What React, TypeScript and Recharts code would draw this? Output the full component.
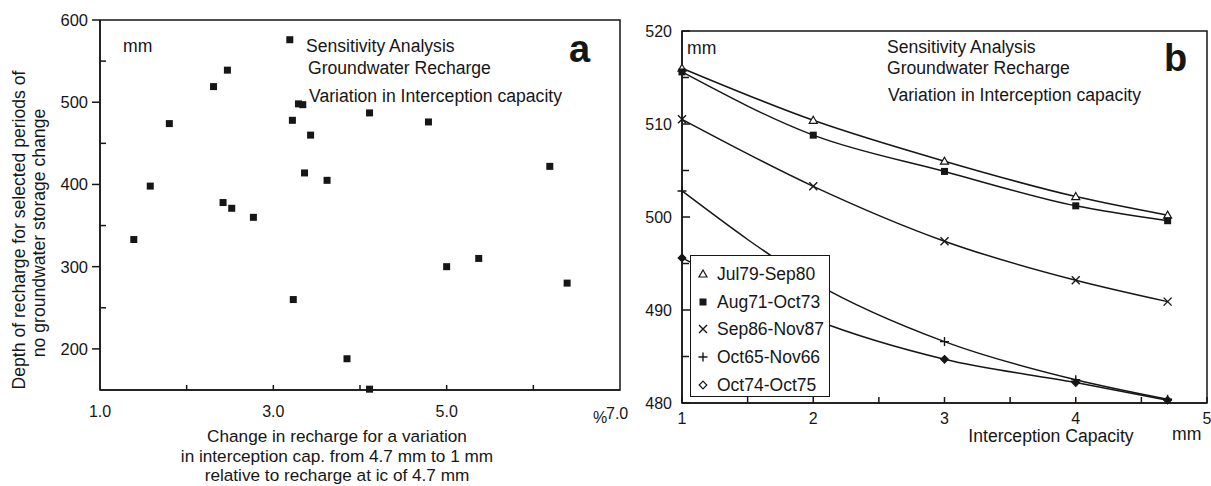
import React from 'react';
import {
  ScatterChart,
  Scatter,
  XAxis,
  YAxis,
  ZAxis,
  ReferenceArea,
  LineChart,
  Line,
  Legend,
} from 'recharts';

const FONT = "'Liberation Sans', Arial, Helvetica, sans-serif";
const INK = '#161616';

// ---------- Panel a : scatter ----------
const recChangePct = [3.19, 2.47, 2.31, 1.8, 3.22, 3.29, 3.34, 1.58, 2.42, 2.52, 2.77, 1.39, 4.11, 4.79, 3.43, 3.36, 3.62, 6.19, 3.23, 5.0, 5.37, 6.39, 3.85, 4.11];
const rechargeDepth = [576, 539, 519, 474, 478, 498, 497, 398, 378, 371, 360, 333, 487, 476, 460, 414, 405, 422, 260, 300, 310, 280, 188, 151];
const aXTicks = [1, 2, 3, 4, 5, 6, 7];
const aXLabels = ['1.0', '', '3.0', '', '5.0', '', '7.0'];
const aYTicks = [200, 250, 300, 350, 400, 450, 500, 550, 600];

// ---------- Panel b : lines ----------
const icMm = [1, 2, 3, 4, 4.7];
const jul79Sep80 = [516.0, 510.4, 506.0, 502.2, 500.2];
const aug71Oct73 = [515.6, 508.8, 504.9, 501.2, 499.6];
const sep86Nov87 = [510.5, 503.3, 497.4, 493.2, 490.9];
const oct65Nov66 = [502.8, 493.0, 486.6, 482.5, 480.4];
const oct74Oct75 = [495.6, 489.0, 484.7, 482.2, 480.3];
const bXTicks = [1, 1.5, 2, 2.5, 3, 3.5, 4, 4.5, 5];
const bYTicks = [480, 485, 490, 495, 500, 505, 510, 515, 520];
const seriesNames = ['Jul79-Sep80', 'Aug71-Oct73', 'Sep86-Nov87', 'Oct65-Nov66', 'Oct74-Oct75'];
const seriesKeys = ['jul79', 'aug71', 'sep86', 'oct65', 'oct74'];
const seriesMarkers = ['triangle', 'square', 'cross', 'plus', 'diamond'];

const scatterData = recChangePct.map((x, i) => ({ x, y: rechargeDepth[i] }));
const lineData = icMm.map((ic, i) => ({
  ic,
  jul79: jul79Sep80[i],
  aug71: aug71Oct73[i],
  sep86: sep86Nov87[i],
  oct65: oct65Nov66[i],
  oct74: oct74Oct75[i],
}));

function Marker({ kind, cx, cy, legend }: { kind: string; cx: number; cy: number; legend?: boolean }) {
  if (cx == null || cy == null || isNaN(cx) || isNaN(cy)) return <g />;
  switch (kind) {
    case 'triangle':
      return (
        <path
          d={`M${cx},${cy - 4} L${cx + 4},${cy + 3} L${cx - 4},${cy + 3} Z`}
          fill="#fff"
          stroke={INK}
          strokeWidth={1.2}
        />
      );
    case 'square':
      return <rect x={cx - 3.5} y={cy - 3.5} width={7} height={7} fill={INK} />;
    case 'cross':
      return (
        <path
          d={`M${cx - 4},${cy - 4}L${cx + 4},${cy + 4}M${cx + 4},${cy - 4}L${cx - 4},${cy + 4}`}
          stroke={INK}
          strokeWidth={1.4}
          fill="none"
        />
      );
    case 'plus':
      return (
        <path
          d={`M${cx - 4.5},${cy}L${cx + 4.5},${cy}M${cx},${cy - 4.5}L${cx},${cy + 4.5}`}
          stroke={INK}
          strokeWidth={1.4}
          fill="none"
        />
      );
    default:
      return (
        <path
          d={`M${cx},${cy - 3.8}L${cx + 3.8},${cy}L${cx},${cy + 3.8}L${cx - 3.8},${cy}Z`}
          fill={legend ? '#fff' : INK}
          stroke={INK}
          strokeWidth={1.2}
        />
      );
  }
}

// ---- ticks (x, y arrive at the axis line since tickSize/tickMargin are 0) ----
const AYTick = (props: any) => {
  const { x, y, payload } = props;
  const v = payload.value;
  const major = v % 100 === 0;
  return (
    <g>
      {major ? (
        <line x1={x - 8} x2={x} y1={y} y2={y} stroke={INK} strokeWidth={1.5} />
      ) : (
        <line x1={x} x2={x + 6} y1={y} y2={y} stroke={INK} strokeWidth={1.5} />
      )}
      {major && (
        <text x={x - 12} y={y} textAnchor="end" dominantBaseline="central" fontFamily={FONT} fontSize={16.5} fill={INK}>
          {v}
        </text>
      )}
    </g>
  );
};

const AXTick = (props: any) => {
  const { x, y, payload } = props;
  const v = payload.value;
  const idx = aXTicks.indexOf(v);
  const label = idx >= 0 ? aXLabels[idx] : '';
  return (
    <g>
      {v > 1 && v < 7 && <line x1={x} x2={x} y1={y} y2={y - 5} stroke={INK} strokeWidth={1.5} />}
      {label && v !== 7 && (
        <text x={x} y={y + 21} textAnchor="middle" dominantBaseline="central" fontFamily={FONT} fontSize={16} fill={INK}>
          {label}
        </text>
      )}
      {label && v === 7 && (
        <g>
          <text x={x - 27} y={y + 27} textAnchor="start" dominantBaseline="central" fontFamily={FONT} fontSize={16} fill={INK}>
            %
          </text>
          <text x={x - 14} y={y + 23} textAnchor="start" dominantBaseline="central" fontFamily={FONT} fontSize={16} fill={INK}>
            {label}
          </text>
        </g>
      )}
    </g>
  );
};

const BYTick = (props: any) => {
  const { x, y, payload } = props;
  const v = payload.value;
  const major = v % 10 === 0;
  return (
    <g>
      <line x1={x} x2={x + (major ? 8 : 7)} y1={y} y2={y} stroke={INK} strokeWidth={1.5} />
      {major && (
        <text x={x - 10} y={y} textAnchor="end" dominantBaseline="central" fontFamily={FONT} fontSize={16} fill={INK}>
          {v}
        </text>
      )}
    </g>
  );
};

const BXTick = (props: any) => {
  const { x, y, payload } = props;
  const v = payload.value;
  const major = Number.isInteger(v);
  return (
    <g>
      <line x1={x} x2={x} y1={y} y2={y - 6} stroke={INK} strokeWidth={1.5} />
      {major && (
        <text x={x} y={y + 15} textAnchor="middle" dominantBaseline="central" fontFamily={FONT} fontSize={16} fill={INK}>
          {v}
        </text>
      )}
    </g>
  );
};

const renderLegend = () => (
  <div
    style={{
      border: `1.5px solid ${INK}`,
      background: '#fff',
      width: 140,
      height: 142,
      boxSizing: 'border-box',
      paddingTop: 4,
      fontFamily: FONT,
      fontSize: 17.5,
      color: INK,
    }}
  >
    {seriesNames.map((n, i) => (
      <div key={n} style={{ height: 27.7, display: 'flex', alignItems: 'center' }}>
        <svg width={26} height={20} style={{ flex: 'none' }}>
          <Marker kind={seriesMarkers[i]} cx={12} cy={10} legend />
        </svg>
        <span style={{ whiteSpace: 'nowrap', lineHeight: '20px' }}>{n}</span>
      </div>
    ))}
  </div>
);

const txt = (x: number, y: number, s: string, extra: any = {}) => (
  <text x={x} y={y} dominantBaseline="central" fontFamily={FONT} fontSize={17.6} fill={INK} {...extra}>
    {s}
  </text>
);

export default function App() {
  return (
    <div style={{ position: 'absolute', left: 0, top: 0, width: 1211, height: 486, background: '#fff', overflow: 'hidden' }}>
      {/* Panel a */}
      <div style={{ position: 'absolute', left: 0, top: 0 }}>
        <ScatterChart width={640} height={486} margin={{ top: 20, right: 20, bottom: 66, left: 60 }}>
          <XAxis
            type="number"
            dataKey="x"
            domain={[1, 7]}
            ticks={aXTicks}
            interval={0}
            height={30}
            tickSize={0}
            tickMargin={0}
            tickLine={false}
            axisLine={{ stroke: INK, strokeWidth: 1.5 }}
            tick={(p: any) => <AXTick {...p} />}
          />
          <YAxis
            type="number"
            dataKey="y"
            domain={[150, 600]}
            ticks={aYTicks}
            interval={0}
            width={40}
            tickSize={0}
            tickMargin={0}
            tickLine={false}
            axisLine={{ stroke: INK, strokeWidth: 1.5 }}
            tick={(p: any) => <AYTick {...p} />}
          />
          <ZAxis range={[49, 49]} />
          <ReferenceArea x1={1} x2={7} y1={150} y2={600} fill="none" fillOpacity={0} stroke={INK} strokeWidth={1.5} />
          <Scatter
            data={scatterData}
            isAnimationActive={false}
            shape={(p: any) => <rect x={p.cx - 3.5} y={p.cy - 3.5} width={7} height={7} fill={INK} />}
          />
        </ScatterChart>
      </div>

      {/* Panel b */}
      <div style={{ position: 'absolute', left: 640, top: 0 }}>
        <LineChart width={571} height={486} data={lineData} margin={{ top: 31, right: 4, bottom: 53, left: 2 }}>
          <XAxis
            type="number"
            dataKey="ic"
            domain={[1, 5]}
            ticks={bXTicks}
            interval={0}
            height={30}
            tickSize={0}
            tickMargin={0}
            tickLine={false}
            axisLine={{ stroke: INK, strokeWidth: 1.5 }}
            tick={(p: any) => <BXTick {...p} />}
          />
          <YAxis
            type="number"
            domain={[480, 520]}
            ticks={bYTicks}
            interval={0}
            width={40}
            tickSize={0}
            tickMargin={0}
            tickLine={false}
            axisLine={{ stroke: INK, strokeWidth: 1.5 }}
            tick={(p: any) => <BYTick {...p} />}
          />
          <ReferenceArea x1={1} x2={5} y1={480} y2={520} fill="none" fillOpacity={0} stroke={INK} strokeWidth={1.5} />
          {seriesKeys.map((k, i) => (
            <Line
              key={k}
              dataKey={k}
              name={seriesNames[i]}
              type="monotone"
              stroke={INK}
              strokeWidth={1.5}
              isAnimationActive={false}
              dot={(p: any) => <Marker key={`${k}-${p.index}`} kind={seriesMarkers[i]} cx={p.cx} cy={p.cy} />}
              activeDot={false}
            />
          ))}
          <Legend
            layout="vertical"
            align="center"
            verticalAlign="middle"
            wrapperStyle={{ left: 50, top: 255, width: 140, height: 142 }}
            content={renderLegend}
          />
        </LineChart>
      </div>

      {/* Annotations */}
      <svg width={1211} height={486} style={{ position: 'absolute', left: 0, top: 0, pointerEvents: 'none' }}>
        {/* panel a */}
        {txt(123, 46, 'mm')}
        {txt(306, 46, 'Sensitivity Analysis')}
        {txt(308, 68, 'Groundwater Recharge')}
        {txt(309, 96, 'Variation in Interception capacity')}
        <text x={569} y={62} fontFamily={FONT} fontSize={38} fontWeight="bold" fill={INK}>a</text>
        <g transform="translate(18.5,230) rotate(-90)">
          {txt(0, 0, 'Depth of recharge for selected periods of', { textAnchor: 'middle' })}
        </g>
        <g transform="translate(38.5,233) rotate(-90)">
          {txt(0, 0, 'no groundwater storage change', { textAnchor: 'middle' })}
        </g>
        {txt(337, 436, 'Change in recharge for a variation', { textAnchor: 'middle', fontSize: 17.2 })}
        {txt(337, 456, 'in interception cap. from 4.7 mm to 1 mm', { textAnchor: 'middle', fontSize: 17.2 })}
        {txt(337, 475, 'relative to recharge at ic of 4.7 mm', { textAnchor: 'middle', fontSize: 17.2 })}

        {/* panel b */}
        {txt(687, 48, 'mm')}
        {txt(887, 47, 'Sensitivity Analysis')}
        {txt(887, 68, 'Groundwater Recharge')}
        {txt(888, 95, 'Variation in Interception capacity')}
        <text x={1164} y={71} fontFamily={FONT} fontSize={38} fontWeight="bold" fill={INK}>b</text>
        {txt(1051, 436, 'Interception Capacity', { textAnchor: 'middle' })}
        {txt(1172, 434, 'mm')}
      </svg>
    </div>
  );
}
